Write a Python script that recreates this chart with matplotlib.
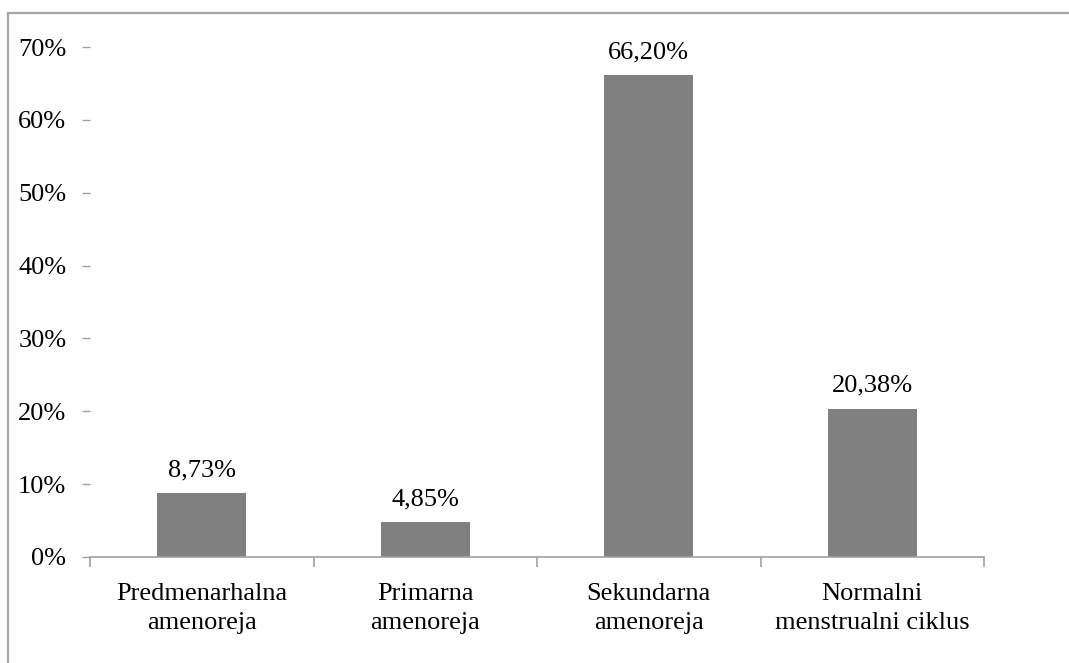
import matplotlib.pyplot as plt
from matplotlib.patches import Rectangle

categories = ["Predmenarhalna\namenoreja", "Primarna\namenoreja",
              "Sekundarna\namenoreja", "Normalni\nmenstrualni ciklus"]
values = [8.73, 4.85, 66.20, 20.38]
yticks = [0, 10, 20, 30, 40, 50, 60, 70]

plt.rcParams['font.family'] = ['Liberation Serif', 'DejaVu Serif']
fs = 19

fig = plt.figure(figsize=(10.69, 6.63), dpi=100)
ax = fig.add_axes([0.0842, 0.1599, 0.9205 - 0.0842, 0.9291 - 0.1599])

x = range(len(values))
ax.bar(x, values, width=0.4, color="#808080", zorder=2)
for i, v in zip(x, values):
    ax.text(i, v + 1.6, f"{v:.2f}%".replace(".", ","), ha="center", va="bottom",
            fontsize=fs)

ax.set_xlim(-0.5, len(values) - 0.5)
ax.set_ylim(0, 70)
ax.set_yticks(yticks)
ax.set_yticklabels([f"{t}%" for t in yticks], fontsize=fs)
ax.tick_params(axis="y", length=6, width=1, color="#a0a0a0", pad=11)

ax.set_xticks([i + 0.5 for i in range(-1, len(values))], minor=False)
ax.set_xticklabels([""] * (len(values) + 1))
ax.set_xticks(list(x), minor=True)
ax.set_xticklabels(categories, minor=True, fontsize=fs, linespacing=1.4)
ax.tick_params(axis="x", which="major", length=7, width=1.2, color="#a0a0a0")
ax.tick_params(axis="x", which="minor", length=0, pad=19)

for s in ["top", "right", "left"]:
    ax.spines[s].set_visible(False)
ax.spines["bottom"].set_color("#a0a0a0")
ax.spines["bottom"].set_linewidth(1.2)

fig.patches.append(Rectangle((8 / 1069, -0.1), 1.2, 1 - 12.5 / 663 + 0.1,
                             transform=fig.transFigure, fill=False,
                             edgecolor="#a6a6a6", linewidth=1.6))

fig.savefig("out.png", dpi=100)
